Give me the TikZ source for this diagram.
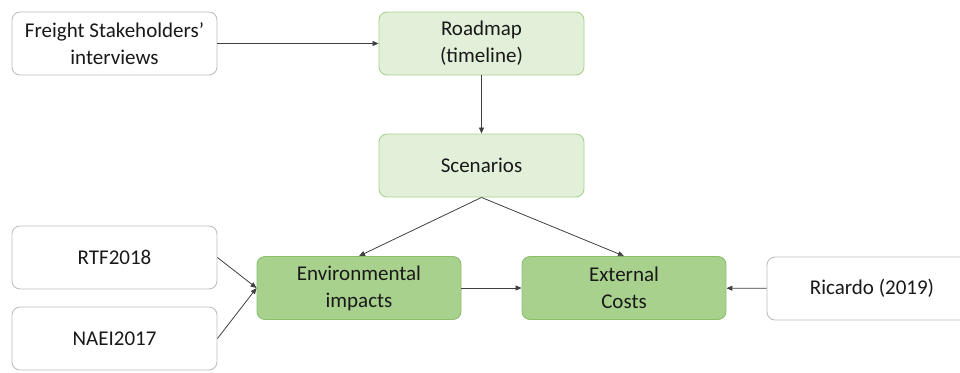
\documentclass[tikz,border=0pt]{standalone}
\usepackage{fontspec}
\setmainfont{Carlito}
\usetikzlibrary{arrows.meta}
\definecolor{lightfill}{HTML}{E2F0D9}
\definecolor{lightedge}{HTML}{A9D18E}
\definecolor{darkfill}{HTML}{A9D18E}
\definecolor{darkedge}{HTML}{8CBF6C}
\definecolor{greyedge}{HTML}{BFBFBF}
\definecolor{arrowcol}{HTML}{404040}
\tikzset{
  box/.style={rectangle, rounded corners=8pt, minimum width=205pt, minimum height=63pt,
    align=center, inner sep=0pt, line width=0.9pt,
    font=\fontsize{21}{27}\selectfont, text=black!90},
  whitebox/.style={box, draw=greyedge, fill=white},
  lightbox/.style={box, draw=lightedge, fill=lightfill},
  darkbox/.style={box, draw=darkedge, fill=darkfill},
  conn/.style={draw=arrowcol, line width=0.8pt, -{Triangle[length=6pt,width=5pt]}},
}
\begin{document}
\begin{tikzpicture}[x=1pt,y=-1pt]
\useasboundingbox (0,0) rectangle (960,372);
\node[whitebox] (fs) at (114.5,43.5) {Freight Stakeholders'\\interviews};
\node[lightbox] (road) at (481.5,43.5) {Roadmap\\(timeline)};
\node[lightbox] (scen) at (481.5,165.5) {Scenarios};
\node[whitebox] (rtf) at (114.5,257.5) {RTF2018};
\node[whitebox] (naei) at (114.5,338.5) {NAEI2017};
\node[darkbox, minimum width=204pt] (env) at (359,288) {Environmental\\impacts};
\node[darkbox, minimum width=204pt] (ext) at (624,288) {External\\Costs};
\node[whitebox, minimum width=210pt] (ric) at (872,288.5) {Ricardo (2019)};
\draw[conn] (fs) -- (road);
\draw[conn] (road) -- (scen);
\draw[conn] (scen.south) -- (env.north);
\draw[conn] (scen.south) -- (ext.north);
\draw[conn] (rtf.east) -- (env.west);
\draw[conn] (naei.east) -- (env.west);
\draw[conn] (env) -- (ext);
\draw[conn] (ric) -- (ext);
\end{tikzpicture}
\end{document}
